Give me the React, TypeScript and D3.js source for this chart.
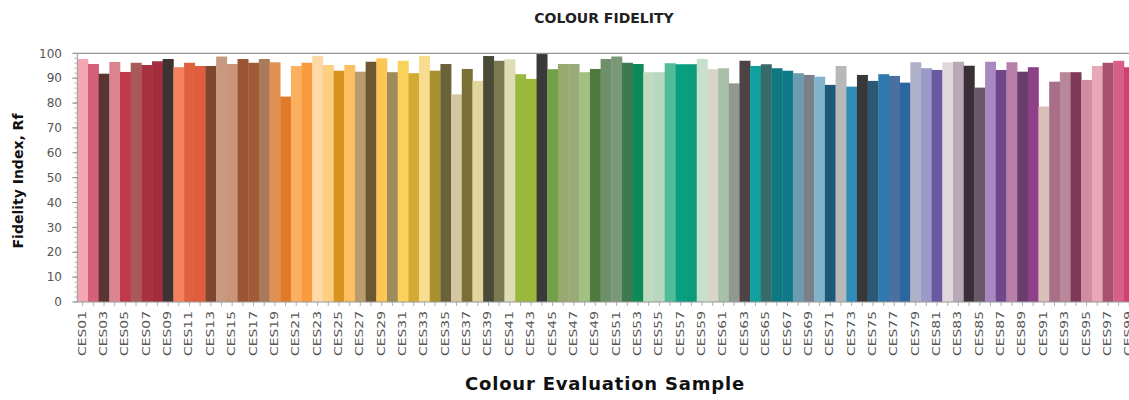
import React from "react";
import * as d3 from "d3";

const samples = [
  "CES01","CES02","CES03","CES04","CES05","CES06","CES07","CES08","CES09","CES10",
  "CES11","CES12","CES13","CES14","CES15","CES16","CES17","CES18","CES19","CES20",
  "CES21","CES22","CES23","CES24","CES25","CES26","CES27","CES28","CES29","CES30",
  "CES31","CES32","CES33","CES34","CES35","CES36","CES37","CES38","CES39","CES40",
  "CES41","CES42","CES43","CES44","CES45","CES46","CES47","CES48","CES49","CES50",
  "CES51","CES52","CES53","CES54","CES55","CES56","CES57","CES58","CES59","CES60",
  "CES61","CES62","CES63","CES64","CES65","CES66","CES67","CES68","CES69","CES70",
  "CES71","CES72","CES73","CES74","CES75","CES76","CES77","CES78","CES79","CES80",
  "CES81","CES82","CES83","CES84","CES85","CES86","CES87","CES88","CES89","CES90",
  "CES91","CES92","CES93","CES94","CES95","CES96","CES97","CES98","CES99",
];

const fidelity = [
  97.7, 95.7, 91.8, 96.5, 92.5, 96.2, 95.3, 96.8, 97.7, 94.4,
  96.2, 94.9, 94.9, 98.7, 95.7, 97.7, 96.2, 97.7, 96.4, 82.6,
  94.9, 96.2, 99.0, 95.3, 93.0, 95.3, 92.6, 96.6, 98.0, 92.4,
  97.0, 92.0, 99.0, 93.0, 95.7, 83.5, 93.7, 88.9, 98.9, 97.0,
  97.6, 91.6, 89.7, 99.7, 93.6, 95.7, 95.7, 92.4, 93.7, 97.7,
  98.7, 96.2, 95.7, 92.4, 92.4, 96.0, 95.6, 95.6, 97.7, 93.6,
  94.0, 87.9, 97.0, 94.9, 95.6, 94.0, 93.0, 92.0, 91.3, 90.6,
  87.3, 94.9, 86.6, 91.3, 88.9, 91.6, 90.9, 88.2, 96.4, 94.0,
  93.3, 96.4, 96.6, 95.0, 86.2, 96.6, 93.3, 96.4, 92.6, 94.4,
  78.6, 88.6, 92.4, 92.4, 89.3, 94.9, 96.2, 97.0, 94.4,
];

const sampleColours = [
  "#f4a6b3","#d4607a","#5a3431","#d9848f","#c0394b","#a8595a","#a8313f","#a32d3c","#3e3333","#f58060",
  "#e0613f","#e05c3c","#7e4630","#c79a80","#c99478","#9c5434","#a05a35","#a97a5a","#e09050","#e07a2a",
  "#fbb060","#fa9a40","#fdd9a8","#fdcf80","#d99320","#fcc060","#b89b70","#6b5830","#fcc655","#9e8a5a",
  "#f8d25a","#d4aa30","#f8dc90","#a89030","#6a6238","#d6c6a0","#7a7035","#e2d49a","#4a4a38","#7a7a50",
  "#e0dcb8","#98b840","#9ab83a","#3a3a38","#70a048","#98a870","#9aaa78","#a2c080","#4e7a40","#6e9068",
  "#7a9878","#3e7a50","#0e8a58","#c0dcc0","#b8d8c0","#50bc98","#08a080","#0a9a7c","#c6e0cc","#d8d4c8",
  "#a8c0a8","#909890","#4c4444","#10a0a0","#386a6a","#107880","#0e7a88","#6c9cb0","#7a8088","#80b4cc",
  "#1e5878","#b8b8b8","#2e8cb8","#383838","#2c5878","#2f78b0","#4a70a0","#2a66a0","#b0b0c8","#9a9ac8",
  "#6a58a0","#e0d8dc","#b8a8b8","#3c3038","#685868","#a888c0","#6e4888","#b880a8","#6a3e6c","#8e4088",
  "#d8c0b8","#a87088","#b88898","#803858","#d08ca0","#e8a8b8","#a85070","#d86088","#d04070",
];

const yTicks = [0, 10, 20, 30, 40, 50, 60, 70, 80, 90, 100];

const chartTitle = "COLOUR FIDELITY";
const xTitle = "Colour Evaluation Sample";
const yTitle = "Fidelity Index, Rf";

export default function App() {
  const W = 1129;
  const H = 400;
  const left = 77.3;
  const band = 10.68;
  const x = d3
    .scaleBand<string>()
    .domain(samples)
    .range([left, left + band * samples.length])
    .padding(0);
  const y = d3.scaleLinear().domain([0, 100]).range([302, 53.3]);
  const minor = d3.range(0, 101, 2);
  const font = "'DejaVu Sans', sans-serif";

  return (
    <svg
      width={W}
      height={H}
      style={{ position: "absolute", left: 0, top: 0, background: "#fff" }}
    >
      <text
        x={604}
        y={23}
        textAnchor="middle"
        fontFamily={font}
        fontWeight="bold"
        fontSize={14}
        fill="#222"
      >
        {chartTitle}
      </text>

      {/* bars */}
      {samples.map((s, i) => (
        <rect
          key={s}
          x={x(s)!}
          y={y(fidelity[i])}
          width={x.bandwidth() + 0.3}
          height={y(0) - y(fidelity[i])}
          fill={sampleColours[i]}
        />
      ))}

      {/* top line at 100 */}
      <line x1={left} x2={W} y1={y(100)} y2={y(100)} stroke="#777" strokeWidth={1} />
      {/* axes */}
      <line x1={left} x2={left} y1={y(0)} y2={y(100)} stroke="#999" strokeWidth={1} />
      <line x1={left} x2={W} y1={y(0)} y2={y(0)} stroke="#999" strokeWidth={1} />

      {minor.map((v) => (
        <line key={"m" + v} x1={left - 3} x2={left} y1={y(v)} y2={y(v)} stroke="#aaa" strokeWidth={0.8} />
      ))}
      {yTicks.map((v) => (
        <g key={"y" + v}>
          <line x1={left - 5} x2={left} y1={y(v)} y2={y(v)} stroke="#888" strokeWidth={1} />
          <text
            x={62}
            y={y(v)}
            dy="0.35em"
            textAnchor="end"
            fontFamily={font}
            fontSize={12}
            fill="#555"
          >
            {v}
          </text>
        </g>
      ))}

      {samples.map((s, i) => {
        const cx = x(s)! + x.bandwidth() / 2;
        return (
          <g key={"x" + s}>
            <line x1={cx} x2={cx} y1={y(0)} y2={y(0) + 4} stroke="#999" strokeWidth={0.8} />
            {i % 2 === 0 && (
              <text
                transform={`translate(${cx + 3},${y(0) + 9}) rotate(-90)`}
                textAnchor="end"
                fontFamily={font}
                fontSize={11}
                fill="#555"
                textLength={45}
                lengthAdjust="spacingAndGlyphs"
              >
                {s}
              </text>
            )}
          </g>
        );
      })}

      <text
        x={605}
        y={390}
        textAnchor="middle"
        fontFamily={font}
        fontWeight="bold"
        fontSize={18}
        letterSpacing={0.8}
        fill="#111"
      >
        {xTitle}
      </text>
      <text
        transform={`translate(23,181) rotate(-90)`}
        textAnchor="middle"
        fontFamily={font}
        fontWeight="bold"
        fontSize={14}
        fill="#111"
      >
        {yTitle}
      </text>
    </svg>
  );
}
